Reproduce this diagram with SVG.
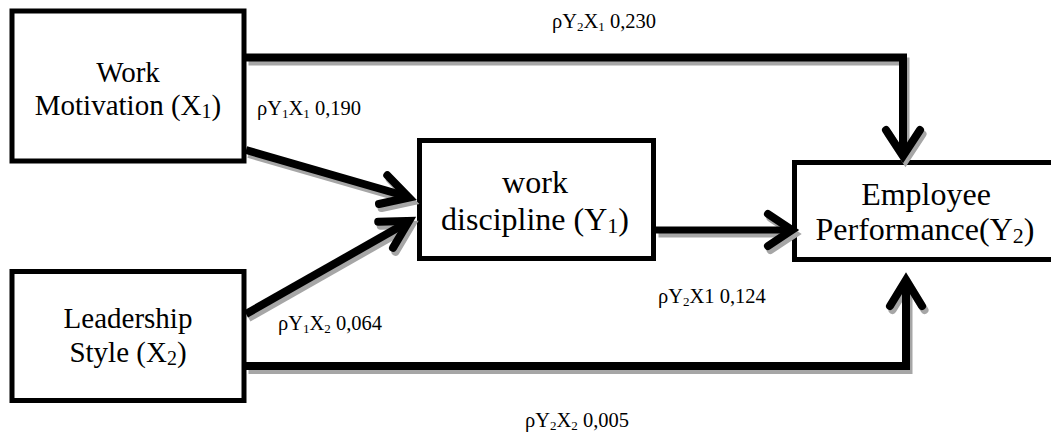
<svg xmlns="http://www.w3.org/2000/svg" width="1051" height="432" viewBox="0 0 1051 432">
<style>
.box{fill:#fff;stroke:#000;stroke-width:5}
.nt{font-family:"Liberation Serif","Times New Roman",serif;fill:#000;text-anchor:middle}
.lb{font-family:"Liberation Serif","Times New Roman",serif;fill:#000;font-size:20.5px}
.ln{fill:none;stroke-width:8;stroke-linejoin:miter;stroke-linecap:butt}
.hd{fill:none;stroke-width:8;stroke-linejoin:miter;stroke-linecap:round}
.k{stroke:#000}
.s{stroke:#a6a6a6}
</style>
<rect width="1051" height="432" fill="#fff"/>
<g id="node-x1">
<rect class="box" x="12" y="11" width="232" height="150"/>
<text class="nt" font-size="29"><tspan x="128" y="82">Work</tspan><tspan x="128" y="115">Motivation (X</tspan><tspan font-size="20" dy="3">1</tspan><tspan dy="-3">)</tspan></text>
</g>
<g id="node-x2">
<rect class="box" x="12" y="271.5" width="232" height="129"/>
<text class="nt" font-size="29"><tspan x="128" y="328">Leadership</tspan><tspan x="128" y="362">Style (X</tspan><tspan font-size="20" dy="3">2</tspan><tspan dy="-3">)</tspan></text>
</g>
<g id="node-y1">
<rect class="box" x="419.5" y="140.5" width="234" height="118"/>
<text class="nt" font-size="32"><tspan x="535" y="193">work</tspan><tspan x="535" y="230">discipline (Y</tspan><tspan font-size="22" dy="3">1</tspan><tspan dy="-3">)</tspan></text>
</g>
<g id="node-y2">
<rect class="box" x="794.5" y="162.5" width="270" height="97"/>
<text class="nt" font-size="32"><tspan x="926" y="205">Employee</tspan><tspan x="925" y="240">Performance(Y</tspan><tspan font-size="22" dy="3">2</tspan><tspan dy="-3">)</tspan></text>
</g>
<g id="connectors">
<g class="s" transform="translate(2.5,4)">
<path class="ln" d="M246,57.5 H903 V154"/>
<path class="hd" d="M886,130 L903,156 L920,130"/>
<path class="ln" d="M246,150 L407,196.5"/>
<path class="hd" d="M379,204 L409,197.5 L387.3,175.3"/>
<path class="ln" d="M246,314 L407,222.5"/>
<path class="hd" d="M378.2,221.7 L409,221 L393,247.9"/>
<path class="ln" style="stroke-width:7" d="M656,230 H790"/>
<path class="hd" d="M768,214 L792,230 L768,246"/>
<path class="ln" d="M246,366 H906 V282"/>
<path class="hd" d="M890,306 L906,280 L922,306"/>
</g>
<g class="k">
<path class="ln" d="M246,57.5 H903 V154"/>
<path class="hd" d="M886,130 L903,156 L920,130"/>
<path class="ln" d="M246,150 L407,196.5"/>
<path class="hd" d="M379,204 L409,197.5 L387.3,175.3"/>
<path class="ln" d="M246,314 L407,222.5"/>
<path class="hd" d="M378.2,221.7 L409,221 L393,247.9"/>
<path class="ln" style="stroke-width:7" d="M656,230 H790"/>
<path class="hd" d="M768,214 L792,230 L768,246"/>
<path class="ln" d="M246,366 H906 V282"/>
<path class="hd" d="M890,306 L906,280 L922,306"/>
</g>
</g>
<g id="labels">
<text class="lb" x="552" y="28">ρY<tspan font-size="13" dy="3">2</tspan><tspan dy="-3">X</tspan><tspan font-size="13" dy="3">1</tspan><tspan dy="-3"> 0,230</tspan></text>
<text class="lb" x="257" y="115">ρY<tspan font-size="13" dy="3">1</tspan><tspan dy="-3">X</tspan><tspan font-size="13" dy="3">1</tspan><tspan dy="-3"> 0,190</tspan></text>
<text class="lb" x="278" y="330">ρY<tspan font-size="13" dy="3">1</tspan><tspan dy="-3">X</tspan><tspan font-size="13" dy="3">2</tspan><tspan dy="-3"> 0,064</tspan></text>
<text class="lb" x="658" y="303">ρY<tspan font-size="13" dy="3">2</tspan><tspan dy="-3">X1 0,124</tspan></text>
<text class="lb" x="525" y="427">ρY<tspan font-size="13" dy="3">2</tspan><tspan dy="-3">X</tspan><tspan font-size="13" dy="3">2</tspan><tspan dy="-3"> 0,005</tspan></text>
</g>
</svg>
